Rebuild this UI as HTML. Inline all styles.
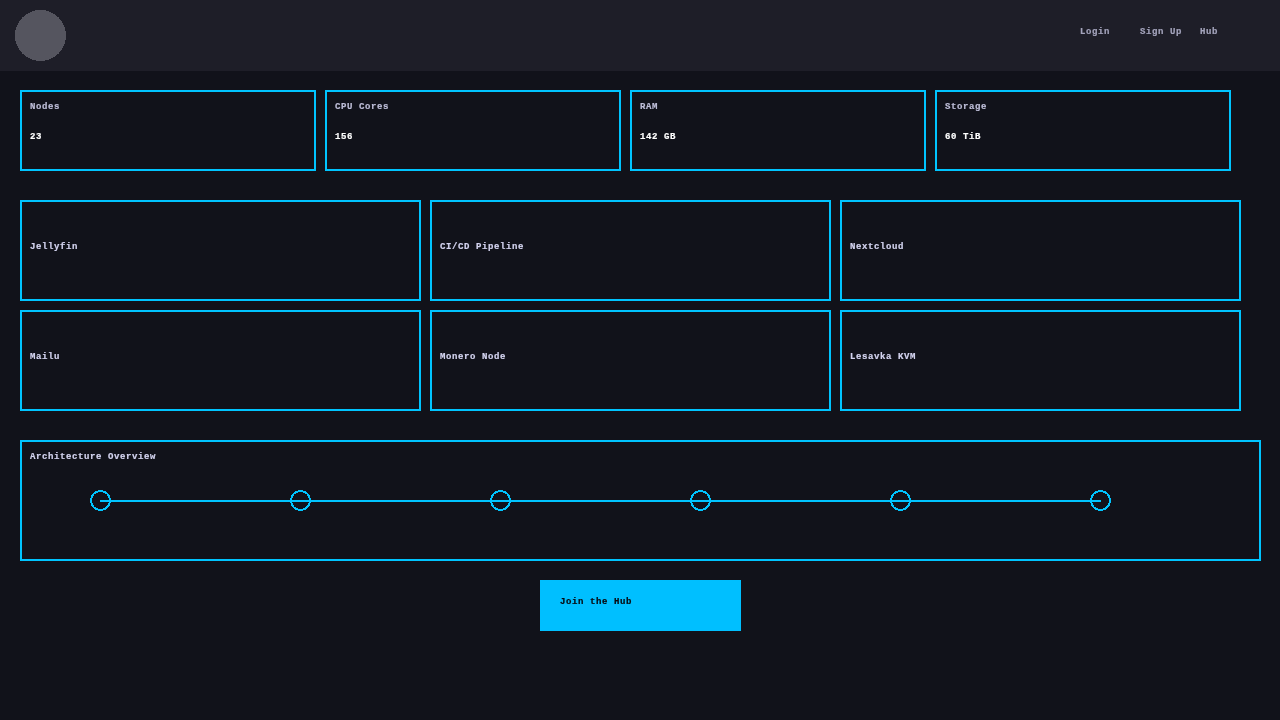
<!DOCTYPE html>
<html><head><meta charset="utf-8"><style>
*{box-sizing:border-box;margin:0;padding:0}
html,body{width:1280px;height:720px;overflow:hidden;background:#11121a;font-family:"Liberation Mono",monospace;font-weight:bold;font-size:9px;letter-spacing:0.6px;line-height:12px}
.hdr{position:absolute;left:0;top:0;width:1280px;height:71px;background:#1e1e28}
.av{position:absolute;left:15px;top:10px;width:51px;height:51px;border-radius:50%;background:#55555f}
.nav{position:absolute;top:26px;color:#a4a4bc}
.box{position:absolute;border:2px solid #00c4ff}
.t{position:absolute;white-space:pre;-webkit-text-stroke:0.2px;will-change:transform}
.lbl{color:#d4d4f0}
.slbl{color:#bebed8}
.val{color:#ffffff}
.btn{position:absolute;left:540px;top:580px;width:201px;height:51px;background:#00bfff}
</style></head><body>
<div class="hdr"><svg style="position:absolute;left:0;top:0" width="80" height="71"><circle cx="40.5" cy="35.5" r="25.5" fill="#55555f" shape-rendering="crispEdges"/></svg>
<div class="nav t" style="left:1080px">Login</div>
<div class="nav t" style="left:1140px">Sign Up</div>
<div class="nav t" style="left:1200px">Hub</div>
</div>

<div class="box" style="left:20px;top:90px;width:296px;height:81px"></div>
<div class="box" style="left:325px;top:90px;width:296px;height:81px"></div>
<div class="box" style="left:630px;top:90px;width:296px;height:81px"></div>
<div class="box" style="left:935px;top:90px;width:296px;height:81px"></div>
<div class="t slbl" style="left:30px;top:101px">Nodes</div>
<div class="t val" style="left:30px;top:131px">23</div>
<div class="t slbl" style="left:335px;top:101px">CPU Cores</div>
<div class="t val" style="left:335px;top:131px">156</div>
<div class="t slbl" style="left:640px;top:101px">RAM</div>
<div class="t val" style="left:640px;top:131px">142 GB</div>
<div class="t slbl" style="left:945px;top:101px">Storage</div>
<div class="t val" style="left:945px;top:131px">60 TiB</div>

<div class="box" style="left:20px;top:200px;width:401px;height:101px"></div>
<div class="box" style="left:430px;top:200px;width:401px;height:101px"></div>
<div class="box" style="left:840px;top:200px;width:401px;height:101px"></div>
<div class="box" style="left:20px;top:310px;width:401px;height:101px"></div>
<div class="box" style="left:430px;top:310px;width:401px;height:101px"></div>
<div class="box" style="left:840px;top:310px;width:401px;height:101px"></div>
<div class="t lbl" style="left:30px;top:241px">Jellyfin</div>
<div class="t lbl" style="left:440px;top:241px">CI/CD Pipeline</div>
<div class="t lbl" style="left:850px;top:241px">Nextcloud</div>
<div class="t lbl" style="left:30px;top:351px">Mailu</div>
<div class="t lbl" style="left:440px;top:351px">Monero Node</div>
<div class="t lbl" style="left:850px;top:351px">Lesavka KVM</div>

<div class="box" style="left:20px;top:440px;width:1241px;height:121px"></div>
<div class="t lbl" style="left:30px;top:451px">Architecture Overview</div>
<svg style="position:absolute;left:0;top:0" width="1280" height="720">
<g fill="none" stroke="#00c4ff" stroke-width="2" shape-rendering="crispEdges">
<line x1="100" y1="501" x2="1101" y2="501"/>
<circle cx="100.5" cy="500.5" r="9.5"/>
<circle cx="300.5" cy="500.5" r="9.5"/>
<circle cx="500.5" cy="500.5" r="9.5"/>
<circle cx="700.5" cy="500.5" r="9.5"/>
<circle cx="900.5" cy="500.5" r="9.5"/>
<circle cx="1100.5" cy="500.5" r="9.5"/>
</g></svg>

<div class="btn"></div>
<div class="t" style="left:560px;top:596px;color:#08080e">Join the Hub</div>
</body></html>
